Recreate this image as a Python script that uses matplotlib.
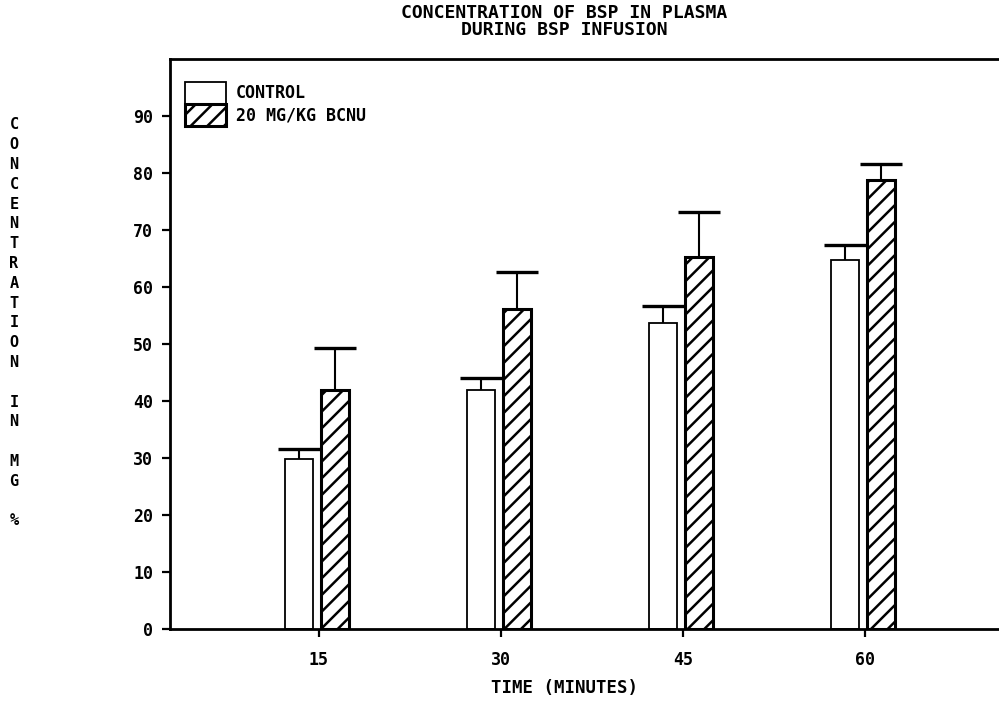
import numpy as np
import matplotlib
matplotlib.use("Agg")
import matplotlib.pyplot as plt

# values (mg %), error bars drawn upward only
times = ["15", "30", "45", "60"]
control = [29.9, 42.0, 53.7, 64.7]
control_err = [1.6, 2.1, 2.9, 2.6]
bcnu = [42.0, 56.1, 65.2, 78.8]
bcnu_err = [7.3, 6.5, 7.9, 2.7]
yticks = [0, 10, 20, 30, 40, 50, 60, 70, 80, 90]

FONT = "DejaVu Sans Mono"
plt.rcParams["font.family"] = FONT
plt.rcParams["font.weight"] = "bold"
plt.rcParams["hatch.linewidth"] = 1.8

fig = plt.figure(figsize=(9.99, 7.16), dpi=100)
ax = fig.add_axes([0.170, 0.1215, 0.830, 0.7961])

x = np.arange(len(times))
w = 0.157
xc = x - 0.11
xb = x + 0.088

ax.bar(xc, control, w, color="white", edgecolor="black", lw=1.3,
       label="CONTROL", zorder=2)
ax.bar(xb, bcnu, w, color="white", edgecolor="black", lw=2.2, hatch="//",
       label="20 MG/KG BCNU", zorder=2)

zeros = [0] * len(times)
for xs, ys, es in [(xc, control, control_err), (xb, bcnu, bcnu_err)]:
    eb = ax.errorbar(xs, ys, yerr=[zeros, es], fmt="none", ecolor="black",
                     elinewidth=1.5, capsize=15, capthick=2.4, zorder=3)
    eb.lines[1][0].set_visible(False)   # only the upper cap

ax.set_xlim(-0.819, 3.736)
ax.set_ylim(0, 100)
ax.set_xticks(x)
ax.set_xticklabels(times)
ax.set_yticks(yticks)
ax.set_yticklabels([str(v) for v in yticks])

for s in ["left", "bottom", "top"]:
    ax.spines[s].set_linewidth(2.0)
ax.spines["right"].set_visible(False)
ax.tick_params(axis="both", direction="out", length=6, width=1.6,
               labelsize=12, colors="black")
ax.tick_params(axis="y", pad=6)
ax.tick_params(axis="x", pad=10)
for lab in ax.get_xticklabels() + ax.get_yticklabels():
    lab.set_fontweight("bold")

leg = ax.legend(loc="upper left", bbox_to_anchor=(0.0, 0.986), frameon=False,
                fontsize=12, handlelength=2.46, handleheight=1.65,
                labelspacing=0.0, handletextpad=0.6, borderaxespad=0.5)
for t in leg.get_texts():
    t.set_fontweight("bold")

fig.text(0.565, 0.994, "CONCENTRATION OF BSP IN PLASMA\nDURING BSP INFUSION",
         ha="center", va="top", fontsize=13, fontweight="bold",
         linespacing=0.9)
fig.text(0.565, 0.039, "TIME (MINUTES)", ha="center", va="center",
         fontsize=12.5, fontweight="bold")

ylab = "CONCENTRATION IN MG %"
fig.text(0.014, 0.549, "\n".join(ylab), ha="center", va="center",
         fontsize=11, fontweight="bold", linespacing=1.4)

fig.savefig("out.png", dpi=100)
